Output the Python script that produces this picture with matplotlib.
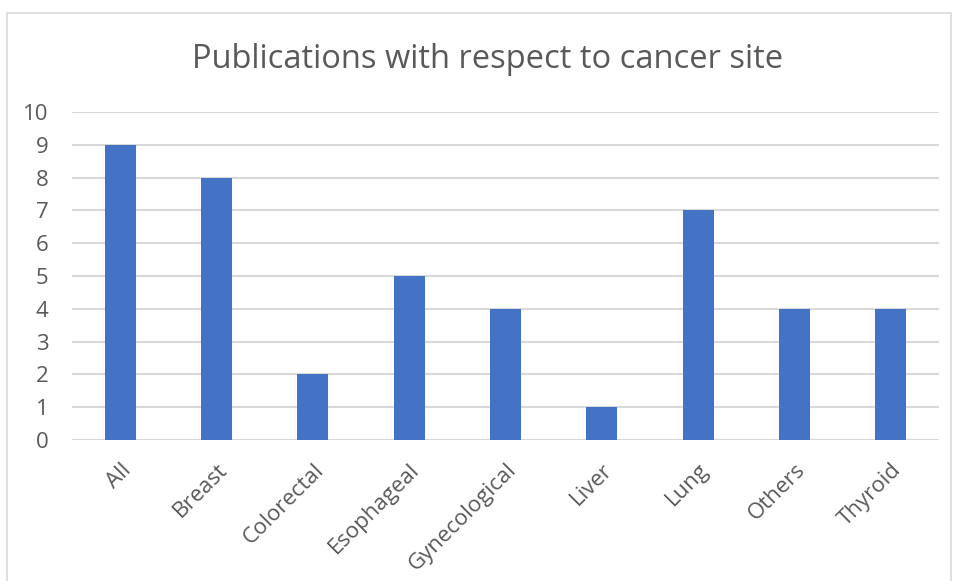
import matplotlib
matplotlib.use('Agg')
import matplotlib.pyplot as plt
from matplotlib.patches import Rectangle

sites = ['All', 'Breast', 'Colorectal', 'Esophageal', 'Gynecological',
         'Liver', 'Lung', 'Others', 'Thyroid']
counts = [9, 8, 2, 5, 4, 1, 7, 4, 4]

plt.rcParams['font.family'] = ['Open Sans', 'DejaVu Sans']
text_color = '#595959'
grid_color = '#d9d9d9'

fig = plt.figure(figsize=(9.55, 5.81), dpi=100)
fig.patches.append(Rectangle((7 / 955, -0.05), (951 - 7) / 955, 1.05 - 13 / 581,
                             transform=fig.transFigure, fill=False,
                             edgecolor=grid_color, linewidth=1.2))

ax = fig.add_axes([72 / 955, 141 / 581, 867 / 955, 328 / 581])
x = range(len(sites))
ax.bar(x, counts, width=0.32, color='#4472c4', zorder=3)
ax.set_xlim(-0.5, len(sites) - 0.5)
ax.set_ylim(0, 10)
ax.set_yticks(range(0, 11))
ax.yaxis.grid(True, color=grid_color, linewidth=1.5, zorder=0)
for s in ax.spines.values():
    s.set_visible(False)
ax.axhline(0, color=grid_color, linewidth=1.8, zorder=2)
ax.tick_params(axis='both', length=0, colors=text_color, labelsize=16)
ax.tick_params(axis='y', pad=17)
ax.set_xticks(list(x))
ax.set_xticklabels(sites, rotation=45, ha='right', rotation_mode='anchor')
ax.tick_params(axis='x', pad=14)

fig.text(488 / 955, 1 - 60 / 581, 'Publications with respect to cancer site',
         ha='center', va='center', fontsize=23.5, color=text_color)

fig.savefig('out.png', dpi=100)
